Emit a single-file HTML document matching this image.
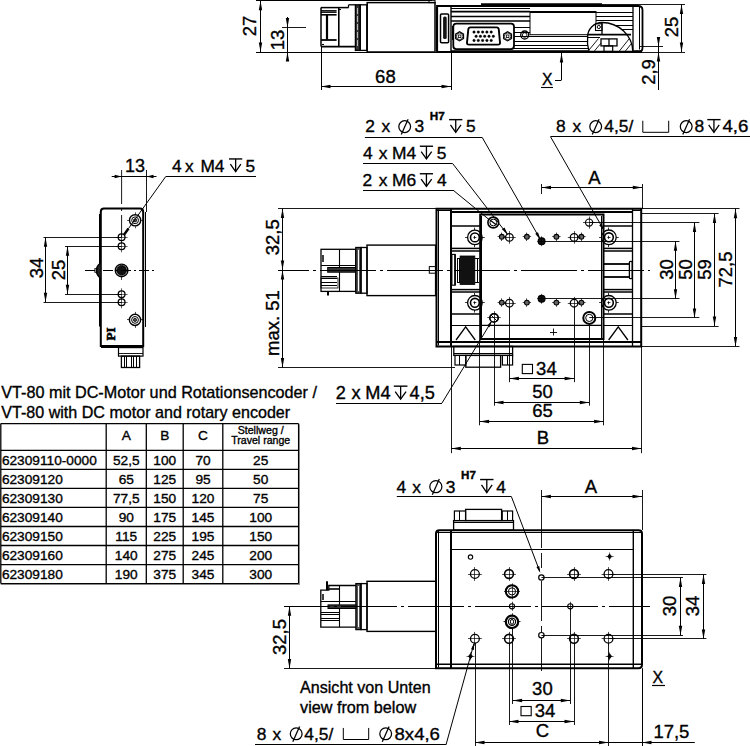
<!DOCTYPE html>
<html><head><meta charset="utf-8"><style>
html,body{margin:0;padding:0;background:#fff;}
svg{display:block;}
text{font-family:"Liberation Sans",sans-serif;fill:#000;stroke:#000;stroke-width:0.35px;}
</style></head><body>
<svg width="750" height="746" viewBox="0 0 750 746" stroke="#000" fill="none" stroke-linecap="butt">
<rect x="0" y="0" width="750" height="746" fill="#fff" stroke="none"/>
<line x1="256" y1="0.5" x2="432" y2="0.5" stroke-width="1" />
<line x1="256" y1="52.5" x2="437" y2="52.5" stroke-width="1" />
<line x1="260.5" y1="0.8" x2="260.5" y2="52" stroke-width="1" />
<polygon points="260.5,0.8 262.2,10.3 258.8,10.3" fill="#000" stroke="none"/>
<polygon points="260.5,52 258.8,42.5 262.2,42.5" fill="#000" stroke="none"/>
<text x="249" y="32.62" font-size="18.5" text-anchor="middle" transform="rotate(-90 249 26)">27</text>
<line x1="287.5" y1="17" x2="287.5" y2="61" stroke-width="1" />
<polygon points="287.5,27.6 285.8,18.1 289.2,18.1" fill="#000" stroke="none"/>
<polygon points="287.5,52 289.2,61.5 285.8,61.5" fill="#000" stroke="none"/>
<line x1="282" y1="27.5" x2="306" y2="27.5" stroke-width="0.9" />
<text x="277" y="46.62" font-size="18.5" text-anchor="middle" transform="rotate(-90 277 40)">13</text>
<line x1="321" y1="7.6" x2="348.6" y2="7.6" stroke-width="1.5" />
<line x1="348.5" y1="7.6" x2="348.5" y2="4.8" stroke-width="1.2" />
<line x1="348.6" y1="4.8" x2="355.4" y2="4.8" stroke-width="1.3" />
<line x1="321" y1="7.6" x2="321" y2="46.6" stroke-width="1.5" />
<line x1="338.8" y1="7.6" x2="338.8" y2="46.6" stroke-width="1.6" />
<line x1="321" y1="10.5" x2="336.6" y2="10.5" stroke-width="0.9" />
<line x1="321" y1="12.1" x2="336.6" y2="12.1" stroke-width="1.6" />
<line x1="321" y1="14.8" x2="336.6" y2="14.8" stroke-width="1.6" />
<line x1="327" y1="14.8" x2="327" y2="39.6" stroke-width="2.2" />
<line x1="321" y1="40" x2="336.6" y2="40" stroke-width="1.8" />
<line x1="321" y1="46.6" x2="355.4" y2="46.6" stroke-width="1.6" />
<line x1="322" y1="44.5" x2="324" y2="44.5" stroke-width="1.0" />
<line x1="339" y1="9.5" x2="341" y2="9.5" stroke-width="1.2" />
<rect x="355.4" y="4.8" width="4.8" height="45.6" rx="0" stroke-width="1.3" fill="#333"/>
<line x1="357.5" y1="8" x2="357.5" y2="47" stroke-width="1.0" stroke="#bbb" stroke-dasharray="6,2"/>
<rect x="360.2" y="4.8" width="6.6" height="45.6" rx="0" stroke-width="1.3" fill="none"/>
<rect x="367.2" y="2.6" width="67.8" height="49.4" rx="0" stroke-width="1.5" fill="none"/>
<rect x="429" y="0.3" width="6" height="2.3" rx="0" stroke-width="1.0" fill="none"/>
<path d="M437,52 L437,6 L638,6 Q642.5,6 642.5,10 L642.5,48 Q642.5,52 638,52 Z" stroke-width="1.8" fill="none" />
<line x1="437" y1="52" x2="642" y2="52" stroke-width="2.2" />
<line x1="451" y1="6" x2="451" y2="52" stroke-width="1.4" />
<rect x="440.5" y="14" width="8.1" height="28.8" rx="1" stroke-width="1.5" fill="none"/>
<rect x="443.1" y="16.4" width="3.6" height="22.6" rx="1.6" stroke-width="0" fill="#111"/>
<line x1="437" y1="7" x2="437" y2="51" stroke-width="2.2" />
<line x1="481" y1="4.5" x2="602" y2="4.5" stroke-width="2.4" />
<line x1="451" y1="8.5" x2="530" y2="8.5" stroke-width="1.0" />
<line x1="451" y1="11.7" x2="530" y2="11.7" stroke-width="1.7" />
<line x1="451" y1="16.5" x2="530" y2="16.5" stroke-width="1.4" />
<line x1="451" y1="21" x2="530" y2="21" stroke-width="1.7" />
<line x1="514" y1="27.5" x2="530" y2="27.5" stroke-width="1.0" />
<line x1="514" y1="32.5" x2="530" y2="32.5" stroke-width="1.0" />
<rect x="530" y="11.5" width="66" height="23.2" rx="0" stroke-width="1.0" fill="none"/>
<line x1="530" y1="12" x2="596" y2="12" stroke-width="2.0" />
<line x1="596" y1="12.5" x2="633" y2="12.5" stroke-width="1.0" />
<line x1="596" y1="16.5" x2="633" y2="16.5" stroke-width="1.0" />
<line x1="596" y1="20.5" x2="633" y2="20.5" stroke-width="1.0" />
<line x1="596" y1="25.5" x2="633" y2="25.5" stroke-width="1.0" />
<line x1="596" y1="29.5" x2="633" y2="29.5" stroke-width="1.0" />
<line x1="514" y1="36.5" x2="588" y2="36.5" stroke-width="1.0" />
<line x1="514" y1="41.5" x2="588" y2="41.5" stroke-width="1.0" />
<line x1="514" y1="45.5" x2="588" y2="45.5" stroke-width="1.0" />
<line x1="514" y1="48.5" x2="588" y2="48.5" stroke-width="1.0" />
<line x1="451" y1="50.5" x2="642" y2="50.5" stroke-width="0.8" />
<rect x="453.3" y="23.6" width="60.7" height="25.5" rx="3" stroke-width="1.8" fill="none"/>
<path d="M470.5,27.4 L496.5,27.4 Q498.6,27.4 498.8,29.5 L500,42.5 Q500.2,44.6 498,44.6 L469,44.6 Q466.8,44.6 467,42.5 L468.3,29.5 Q468.5,27.4 470.5,27.4 Z" stroke-width="1.9" fill="none" />
<circle cx="474" cy="32.1" r="1.25" stroke-width="0.4" fill="#000"/>
<circle cx="476.1" cy="36.3" r="1.25" stroke-width="0.4" fill="#000"/>
<circle cx="474" cy="40.4" r="1.25" stroke-width="0.4" fill="#000"/>
<circle cx="478.3" cy="32.1" r="1.25" stroke-width="0.4" fill="#000"/>
<circle cx="480.4" cy="36.3" r="1.25" stroke-width="0.4" fill="#000"/>
<circle cx="478.3" cy="40.4" r="1.25" stroke-width="0.4" fill="#000"/>
<circle cx="482.6" cy="32.1" r="1.25" stroke-width="0.4" fill="#000"/>
<circle cx="484.7" cy="36.3" r="1.25" stroke-width="0.4" fill="#000"/>
<circle cx="482.6" cy="40.4" r="1.25" stroke-width="0.4" fill="#000"/>
<circle cx="486.9" cy="32.1" r="1.25" stroke-width="0.4" fill="#000"/>
<circle cx="489" cy="36.3" r="1.25" stroke-width="0.4" fill="#000"/>
<circle cx="486.9" cy="40.4" r="1.25" stroke-width="0.4" fill="#000"/>
<circle cx="491.2" cy="32.1" r="1.25" stroke-width="0.4" fill="#000"/>
<circle cx="493.3" cy="36.3" r="1.25" stroke-width="0.4" fill="#000"/>
<circle cx="491.2" cy="40.4" r="1.25" stroke-width="0.4" fill="#000"/>
<polygon points="463.58,38.6 459.6,40.9 455.62,38.6 455.62,34 459.6,31.7 463.58,34" stroke-width="1.1" fill="none"/>
<circle cx="459.6" cy="36.3" r="3.3" stroke-width="0.8" fill="none"/>
<rect x="458.3" y="35" width="2.6" height="2.6" rx="0" stroke-width="0.8" fill="none"/>
<polygon points="511.58,38.6 507.6,40.9 503.62,38.6 503.62,34 507.6,31.7 511.58,34" stroke-width="1.1" fill="none"/>
<circle cx="507.6" cy="36.3" r="3.3" stroke-width="0.8" fill="none"/>
<rect x="506.3" y="35" width="2.6" height="2.6" rx="0" stroke-width="0.8" fill="none"/>
<circle cx="524.7" cy="35" r="4" stroke-width="1.3" fill="none"/>
<circle cx="524.7" cy="35" r="2.3" stroke-width="0.9" fill="none"/>
<line x1="452.8" y1="26" x2="452.8" y2="40" stroke-width="1.6" />
<line x1="633" y1="6.4" x2="633" y2="50" stroke-width="1.3" />
<line x1="639.5" y1="7" x2="639.5" y2="49.5" stroke-width="1.0" />
<path d="M589,51.5 Q586.8,44 587.6,37 A14.5,14.5 0 0 1 602,22.5 A31,29.5 0 0 1 632.8,51.5 Z" stroke-width="1.3" fill="#fff" />
<line x1="602" y1="22.5" x2="602" y2="35" stroke-width="1.3" />
<line x1="587.6" y1="34.6" x2="631" y2="34.6" stroke-width="1.6" />
<line x1="587.6" y1="37.5" x2="600" y2="37.5" stroke-width="1.0" />
<rect x="595.5" y="23.8" width="6.5" height="6.7" rx="0" stroke-width="1.1" fill="none"/>
<circle cx="598.8" cy="27" r="1.6" stroke-width="1.0" fill="none"/>
<rect x="601" y="38.9" width="16" height="7" rx="0" stroke-width="1.3" fill="none"/>
<rect x="604" y="45.9" width="8.7" height="5.6" rx="0" stroke-width="1.2" fill="none"/>
<line x1="609" y1="38.9" x2="609" y2="45.9" stroke-width="1.3" />
<line x1="589" y1="50" x2="598.5" y2="38.5" stroke-width="0.9" />
<line x1="594" y1="51.5" x2="601" y2="43" stroke-width="0.9" />
<line x1="619" y1="51.5" x2="629" y2="39" stroke-width="0.9" />
<line x1="625" y1="51.5" x2="631.5" y2="43.5" stroke-width="0.9" />
<line x1="602" y1="4.5" x2="685" y2="4.5" stroke-width="0.9" />
<line x1="642" y1="52.5" x2="685" y2="52.5" stroke-width="0.9" />
<line x1="640" y1="46.5" x2="663" y2="46.5" stroke-width="0.9" />
<line x1="681.5" y1="4.5" x2="681.5" y2="52" stroke-width="1" />
<polygon points="681.5,4.5 683.2,14 679.8,14" fill="#000" stroke="none"/>
<polygon points="681.5,52 679.8,42.5 683.2,42.5" fill="#000" stroke="none"/>
<text x="671" y="33.62" font-size="18.5" text-anchor="middle" transform="rotate(-90 671 27)">25</text>
<line x1="658.5" y1="37" x2="658.5" y2="90" stroke-width="1" />
<polygon points="658.5,46.6 656.8,37.1 660.2,37.1" fill="#000" stroke="none"/>
<polygon points="658.5,52 660.2,61.5 656.8,61.5" fill="#000" stroke="none"/>
<text x="648" y="78.62" font-size="18.5" text-anchor="middle" transform="rotate(-90 648 72)">2,9</text>
<line x1="561.5" y1="53" x2="561.5" y2="80" stroke-width="1" />
<polygon points="561.5,53 563.2,62.5 559.8,62.5" fill="#000" stroke="none"/>
<line x1="555" y1="80.5" x2="561.4" y2="80.5" stroke-width="1" />
<text x="547.2" y="84.8" font-size="15.8" text-anchor="middle" >X</text>
<line x1="541" y1="87.5" x2="553" y2="87.5" stroke-width="1.1" />
<line x1="321.5" y1="47" x2="321.5" y2="90" stroke-width="1" />
<line x1="451.5" y1="52" x2="451.5" y2="90" stroke-width="1" />
<line x1="321" y1="86.5" x2="451" y2="86.5" stroke-width="1" />
<polygon points="321,86.5 330.5,84.8 330.5,88.2" fill="#000" stroke="none"/>
<polygon points="451,86.5 441.5,88.2 441.5,84.8" fill="#000" stroke="none"/>
<text x="385.4" y="82.6" font-size="18.5" text-anchor="middle" >68</text>
<path d="M100.8,347 L100.8,212 Q100.8,208.6 104,208.6 L140,208.6 Q143.2,208.6 143.2,212 L143.2,347" stroke-width="2.0" fill="none" />
<line x1="100.8" y1="346" x2="143.2" y2="346" stroke-width="2.0" />
<line x1="99.5" y1="214" x2="99.5" y2="326.5" stroke-width="1.0" />
<line x1="145.5" y1="212" x2="145.5" y2="327" stroke-width="1.0" />
<line x1="101" y1="347.5" x2="143" y2="347.5" stroke-width="1.0" />
<rect x="118.5" y="347.6" width="24.5" height="8.5" rx="0" stroke-width="1.2" fill="none"/>
<line x1="118.5" y1="353.5" x2="143" y2="353.5" stroke-width="0.9" />
<rect x="121.4" y="356.1" width="18.2" height="11.4" rx="0" stroke-width="1.3" fill="none"/>
<line x1="124.5" y1="356.1" x2="124.5" y2="367.5" stroke-width="1.0" />
<line x1="126.5" y1="356.1" x2="126.5" y2="367.5" stroke-width="1.0" />
<line x1="131.5" y1="356.1" x2="131.5" y2="367.5" stroke-width="1.0" />
<line x1="133.5" y1="356.1" x2="133.5" y2="367.5" stroke-width="1.0" />
<line x1="136.5" y1="356.1" x2="136.5" y2="367.5" stroke-width="1.0" />
<circle cx="135.1" cy="220.3" r="5.6" stroke-width="1.4" fill="none"/>
<circle cx="135.1" cy="220.3" r="3.4" stroke-width="1.0" fill="none"/>
<circle cx="135.1" cy="220.3" r="1.6" stroke-width="0.8" fill="#555"/>
<line x1="127.1" y1="220.5" x2="129.1" y2="220.5" stroke-width="0.7" />
<line x1="141.1" y1="220.5" x2="143.1" y2="220.5" stroke-width="0.7" />
<line x1="135.5" y1="212.3" x2="135.5" y2="214.3" stroke-width="0.7" />
<line x1="135.5" y1="226.3" x2="135.5" y2="228.3" stroke-width="0.7" />
<circle cx="135" cy="319.9" r="5.6" stroke-width="1.4" fill="none"/>
<circle cx="135" cy="319.9" r="3.4" stroke-width="1.0" fill="none"/>
<circle cx="135" cy="319.9" r="1.6" stroke-width="0.8" fill="#555"/>
<line x1="127" y1="319.5" x2="129" y2="319.5" stroke-width="0.7" />
<line x1="141" y1="319.5" x2="143" y2="319.5" stroke-width="0.7" />
<line x1="135.5" y1="311.9" x2="135.5" y2="313.9" stroke-width="0.7" />
<line x1="135.5" y1="325.9" x2="135.5" y2="327.9" stroke-width="0.7" />
<circle cx="121.6" cy="237.2" r="3.4" stroke-width="1.3" fill="none"/>
<line x1="115.6" y1="237.5" x2="127.6" y2="237.5" stroke-width="0.6" />
<line x1="121.5" y1="231.2" x2="121.5" y2="243.2" stroke-width="0.6" />
<circle cx="121.6" cy="246.3" r="3.4" stroke-width="1.3" fill="none"/>
<line x1="115.6" y1="246.5" x2="127.6" y2="246.5" stroke-width="0.6" />
<line x1="121.5" y1="240.3" x2="121.5" y2="252.3" stroke-width="0.6" />
<circle cx="121.6" cy="294.3" r="3.4" stroke-width="1.3" fill="none"/>
<line x1="115.6" y1="294.5" x2="127.6" y2="294.5" stroke-width="0.6" />
<line x1="121.5" y1="288.3" x2="121.5" y2="300.3" stroke-width="0.6" />
<circle cx="121.6" cy="302.3" r="3.4" stroke-width="1.3" fill="none"/>
<line x1="115.6" y1="302.5" x2="127.6" y2="302.5" stroke-width="0.6" />
<line x1="121.5" y1="296.3" x2="121.5" y2="308.3" stroke-width="0.6" />
<circle cx="121.6" cy="270.4" r="6.3" stroke-width="1.4" fill="none"/>
<circle cx="121.6" cy="270.4" r="4.8" stroke-width="1.0" fill="#111"/>
<line x1="121.5" y1="277" x2="121.5" y2="280" stroke-width="0.7" />
<line x1="85" y1="270.5" x2="156" y2="270.5" stroke-width="1" stroke-dasharray="10,3,2,3"/>
<path d="M100.5,263 Q96.5,266 96.3,270.4 Q96.5,275 100.5,278" stroke-width="1.4" fill="#222" />
<rect x="94.8" y="268.6" width="2.2" height="3.7" rx="0" stroke-width="0.8" fill="none"/>
<text x="110.2" y="334" font-size="13" font-weight="bold" font-family="Liberation Serif" text-anchor="middle" transform="rotate(-90 110.2 334)" dominant-baseline="central" style="font-family:Liberation Serif;stroke-width:0.6px">PI</text>
<line x1="111.7" y1="176.5" x2="156.5" y2="176.5" stroke-width="1" />
<polygon points="121.6,176.5 114.6,178.2 114.6,174.8" fill="#000" stroke="none"/>
<polygon points="146.5,176.5 153.5,174.8 153.5,178.2" fill="#000" stroke="none"/>
<line x1="121.6" y1="170" x2="121.6" y2="237" stroke-width="0.9" stroke-dasharray="34,4,3,4"/>
<line x1="146.5" y1="170" x2="146.5" y2="212" stroke-width="0.9" />
<text x="135" y="171.7" font-size="18" text-anchor="middle" >13</text>
<text x="172" y="171.6" font-size="17.3" text-anchor="start" >4</text>
<text x="185.11" y="171.6" font-size="17.3" text-anchor="start" >x</text>
<text x="200.38" y="171.6" font-size="17.3" text-anchor="start" >M4</text>
<line x1="229" y1="158.94" x2="242.26" y2="158.94" stroke-width="1.4" />
<line x1="235.63" y1="158.94" x2="235.63" y2="171.6" stroke-width="1.3" />
<polyline points="230.36,164.21 235.63,171.6 240.9,164.21" stroke-width="1.3" fill="none"/>
<text x="245.41" y="171.6" font-size="17.3" text-anchor="start" >5</text>
<line x1="165.7" y1="176.5" x2="256" y2="176.5" stroke-width="1" />
<line x1="165.7" y1="176.6" x2="128.5" y2="228.5" stroke-width="1" />
<line x1="128.5" y1="228.5" x2="124.2" y2="234.5" stroke-width="2.4" />
<line x1="43.5" y1="237.5" x2="121.6" y2="237.5" stroke-width="0.9" />
<line x1="65" y1="246.5" x2="121.6" y2="246.5" stroke-width="0.9" />
<line x1="65" y1="294.5" x2="121.6" y2="294.5" stroke-width="0.9" />
<line x1="43.5" y1="302.5" x2="121.6" y2="302.5" stroke-width="0.9" />
<line x1="45.5" y1="237.2" x2="45.5" y2="302.3" stroke-width="1" />
<polygon points="45.5,237.2 47.2,246.7 43.8,246.7" fill="#000" stroke="none"/>
<polygon points="45.5,302.3 43.8,292.8 47.2,292.8" fill="#000" stroke="none"/>
<line x1="67.5" y1="246.3" x2="67.5" y2="294.3" stroke-width="1" />
<polygon points="67.5,246.3 69.2,255.8 65.8,255.8" fill="#000" stroke="none"/>
<polygon points="67.5,294.3 65.8,284.8 69.2,284.8" fill="#000" stroke="none"/>
<text x="36.8" y="274.62" font-size="18.5" text-anchor="middle" transform="rotate(-90 36.8 268)">34</text>
<text x="58.4" y="276.62" font-size="18.5" text-anchor="middle" transform="rotate(-90 58.4 270)">25</text>
<text x="365.22" y="132.3" font-size="17.4" text-anchor="start" >2</text>
<text x="381.5" y="132.3" font-size="17.4" text-anchor="start" >x</text>
<circle cx="404.7" cy="126.61" r="5.9" stroke-width="1.25" fill="none"/>
<line x1="401.3" y1="134.59" x2="408.1" y2="119.21" stroke-width="1.25" />
<text x="414.44" y="132.3" font-size="17.4" text-anchor="start" >3</text>
<text x="429.84" y="119.5" font-size="10.5" text-anchor="start" font-weight="bold" textLength="15" lengthAdjust="spacingAndGlyphs">H7</text>
<line x1="449.1" y1="119.64" x2="462.36" y2="119.64" stroke-width="1.4" />
<line x1="455.73" y1="119.64" x2="455.73" y2="132.3" stroke-width="1.3" />
<polyline points="450.46,124.91 455.73,132.3 461,124.91" stroke-width="1.3" fill="none"/>
<text x="466" y="132.3" font-size="17.4" text-anchor="start" >5</text>
<line x1="364.9" y1="137.5" x2="482.2" y2="137.5" stroke-width="1" />
<line x1="482.2" y1="137.4" x2="539.8" y2="238.5" stroke-width="1" />
<polygon points="540.6,240 535.23,233.86 538,232.27" fill="#000" stroke="none"/>
<text x="362.9" y="158.9" font-size="17.4" text-anchor="start" >4</text>
<text x="378.8" y="158.9" font-size="17.4" text-anchor="start" >x</text>
<text x="391.97" y="158.9" font-size="17.4" text-anchor="start" >M4</text>
<line x1="419.8" y1="146.24" x2="433.06" y2="146.24" stroke-width="1.4" />
<line x1="426.43" y1="146.24" x2="426.43" y2="158.9" stroke-width="1.3" />
<polyline points="421.16,151.51 426.43,158.9 431.7,151.51" stroke-width="1.3" fill="none"/>
<text x="436.7" y="158.9" font-size="17.4" text-anchor="start" >5</text>
<line x1="363" y1="163.5" x2="452.6" y2="163.5" stroke-width="1" />
<line x1="452.6" y1="163.5" x2="507.5" y2="234.5" stroke-width="1" />
<polygon points="508,234.8 501.92,229.36 504.48,227.44" fill="#000" stroke="none"/>
<text x="362.42" y="186.4" font-size="17.4" text-anchor="start" >2</text>
<text x="378.8" y="186.4" font-size="17.4" text-anchor="start" >x</text>
<text x="391.97" y="186.4" font-size="17.4" text-anchor="start" >M6</text>
<line x1="419.8" y1="173.74" x2="433.06" y2="173.74" stroke-width="1.4" />
<line x1="426.43" y1="173.74" x2="426.43" y2="186.4" stroke-width="1.3" />
<polyline points="421.16,179.01 426.43,186.4 431.7,179.01" stroke-width="1.3" fill="none"/>
<text x="437" y="186.4" font-size="17.4" text-anchor="start" >4</text>
<line x1="363" y1="190.5" x2="454" y2="190.5" stroke-width="1" />
<line x1="454" y1="190.9" x2="489" y2="219.5" stroke-width="1" />
<text x="555.94" y="132.3" font-size="17.4" text-anchor="start" >8</text>
<text x="572.5" y="132.3" font-size="17.4" text-anchor="start" >x</text>
<circle cx="595.7" cy="126.61" r="5.9" stroke-width="1.25" fill="none"/>
<line x1="592.3" y1="134.59" x2="599.1" y2="119.21" stroke-width="1.25" />
<text x="604.3" y="132.3" font-size="17.4" text-anchor="start" >4,5/</text>
<polyline points="642.8,120.74 642.8,132.3 668.7,132.3 668.7,120.74" stroke-width="1.0" fill="none"/>
<circle cx="686.2" cy="126.61" r="5.9" stroke-width="1.25" fill="none"/>
<line x1="682.8" y1="134.59" x2="689.6" y2="119.21" stroke-width="1.25" />
<text x="694.54" y="132.3" font-size="17.4" text-anchor="start" >8</text>
<line x1="707.3" y1="119.64" x2="720.56" y2="119.64" stroke-width="1.4" />
<line x1="713.93" y1="119.64" x2="713.93" y2="132.3" stroke-width="1.3" />
<polyline points="708.66,124.91 713.93,132.3 719.2,124.91" stroke-width="1.3" fill="none"/>
<text x="722.41" y="132.3" font-size="17" text-anchor="start" textLength="25.9" lengthAdjust="spacingAndGlyphs">4,6</text>
<line x1="550.5" y1="136.5" x2="750" y2="136.5" stroke-width="1" />
<line x1="550.5" y1="136.7" x2="603.5" y2="229.5" stroke-width="1" />
<polygon points="604,230.5 599.21,225.18 601.81,223.68" fill="#000" stroke="none"/>
<line x1="541.5" y1="184" x2="541.5" y2="194" stroke-width="0.9" />
<line x1="642.5" y1="184" x2="642.5" y2="209" stroke-width="0.9" />
<line x1="541.5" y1="187.5" x2="642.3" y2="187.5" stroke-width="1" />
<polygon points="541.5,187.5 551,185.8 551,189.2" fill="#000" stroke="none"/>
<polygon points="642.3,187.5 632.8,189.2 632.8,185.8" fill="#000" stroke="none"/>
<text x="594.3" y="184" font-size="18.5" text-anchor="middle" >A</text>
<rect x="321" y="249.3" width="34.8" height="42.1" rx="0" stroke-width="1.3" fill="none"/>
<line x1="339.5" y1="249.3" x2="339.5" y2="291.4" stroke-width="1.1" />
<line x1="321" y1="265.5" x2="355.8" y2="265.5" stroke-width="1.1" />
<rect x="327.7" y="267.5" width="28.1" height="4.7" rx="0" stroke-width="1.0" fill="#333"/>
<line x1="321" y1="276.5" x2="337" y2="276.5" stroke-width="1.0" />
<line x1="321" y1="278.5" x2="337" y2="278.5" stroke-width="1.0" />
<line x1="321" y1="282.5" x2="337" y2="282.5" stroke-width="1.0" />
<line x1="321" y1="285.5" x2="337" y2="285.5" stroke-width="1.0" />
<rect x="321" y="278" width="17" height="10" rx="0" stroke-width="0.8" fill="none"/>
<line x1="328" y1="291.4" x2="328" y2="295.6" stroke-width="2.0" />
<line x1="323" y1="255" x2="323" y2="262" stroke-width="1.5" />
<rect x="355.8" y="247.5" width="5.2" height="45.7" rx="0" stroke-width="1.3" fill="#555"/>
<line x1="358.5" y1="250" x2="358.5" y2="291" stroke-width="1.0" stroke="#fff"/>
<rect x="361" y="247.5" width="6" height="45.7" rx="0" stroke-width="1.3" fill="none"/>
<rect x="367" y="245.1" width="68.6" height="50.5" rx="0" stroke-width="1.4" fill="none"/>
<rect x="429.3" y="266.6" width="6.3" height="6.6" rx="0" stroke-width="1.0" fill="none"/>
<line x1="278" y1="208.5" x2="436" y2="208.5" stroke-width="0.9" />
<line x1="278" y1="367.5" x2="455" y2="367.5" stroke-width="0.9" />
<line x1="282.5" y1="208.6" x2="282.5" y2="367.5" stroke-width="1" />
<polygon points="282.5,208.6 284.2,218.1 280.8,218.1" fill="#000" stroke="none"/>
<polygon points="282.5,270 280.8,260.5 284.2,260.5" fill="#000" stroke="none"/>
<polygon points="282.5,270 284.2,279.5 280.8,279.5" fill="#000" stroke="none"/>
<polygon points="282.5,367.5 280.8,358 284.2,358" fill="#000" stroke="none"/>
<text x="272.7" y="243.92" font-size="18.5" text-anchor="middle" transform="rotate(-90 272.7 237.3)">32,5</text>
<text x="272.7" y="329.62" font-size="18.5" text-anchor="middle" transform="rotate(-90 272.7 323)">max. 51</text>
<line x1="278" y1="270.5" x2="650" y2="270.5" stroke-width="1" stroke-dasharray="56,4,3,4" stroke-dashoffset="25"/>
<path d="M436.5,346.4 L436.5,208.8 L641.2,208.8 L641.2,346.4 Z" stroke-width="2.0" fill="none" />
<line x1="438.5" y1="209.5" x2="438.5" y2="345.5" stroke-width="1.0" />
<line x1="451" y1="208.8" x2="451" y2="346.4" stroke-width="2.0" />
<line x1="632.5" y1="208.8" x2="632.5" y2="346.4" stroke-width="1.3" />
<line x1="436" y1="210.5" x2="451" y2="210.5" stroke-width="1.0" />
<line x1="451" y1="212" x2="632.5" y2="212" stroke-width="2.0" />
<line x1="632.5" y1="210.5" x2="641" y2="210.5" stroke-width="1.0" />
<line x1="436" y1="342" x2="642" y2="342" stroke-width="1.8" />
<path d="M480.2,340 L480.2,214.5 L603.5,214.5 L603.5,340" stroke-width="2.0" fill="none" />
<line x1="481.5" y1="216" x2="481.5" y2="338" stroke-width="1.0" />
<line x1="601.5" y1="216" x2="601.5" y2="338" stroke-width="1.0" />
<line x1="480" y1="339" x2="604" y2="339" stroke-width="2.2" />
<line x1="482" y1="325.4" x2="602" y2="325.4" stroke-width="1.3" />
<line x1="451.3" y1="226" x2="480" y2="226" stroke-width="1.5" />
<line x1="451.3" y1="248.4" x2="480" y2="248.4" stroke-width="1.5" />
<line x1="451.3" y1="251" x2="480" y2="251" stroke-width="1.5" />
<line x1="451.3" y1="289.6" x2="480" y2="289.6" stroke-width="1.5" />
<line x1="451.3" y1="292" x2="480" y2="292" stroke-width="1.5" />
<line x1="451.3" y1="314" x2="480" y2="314" stroke-width="1.5" />
<line x1="451.3" y1="325.5" x2="480" y2="325.5" stroke-width="1.0" />
<polyline points="456.05,340 465.65,326.8 475.25,340" stroke-width="1.3" fill="none"/>
<line x1="604" y1="226" x2="632.5" y2="226" stroke-width="1.5" />
<line x1="604" y1="248.4" x2="632.5" y2="248.4" stroke-width="1.5" />
<line x1="604" y1="251" x2="632.5" y2="251" stroke-width="1.5" />
<line x1="604" y1="289.6" x2="632.5" y2="289.6" stroke-width="1.5" />
<line x1="604" y1="292" x2="632.5" y2="292" stroke-width="1.5" />
<line x1="604" y1="314" x2="632.5" y2="314" stroke-width="1.5" />
<line x1="604" y1="325.5" x2="632.5" y2="325.5" stroke-width="1.0" />
<polyline points="608.65,340 618.25,326.8 627.85,340" stroke-width="1.3" fill="none"/>
<rect x="451.9" y="254.4" width="3.3" height="30.8" rx="0" stroke-width="1.1" fill="none"/>
<line x1="455" y1="254.4" x2="455" y2="285.2" stroke-width="1.6" />
<line x1="457.5" y1="258" x2="457.5" y2="282.2" stroke-width="1.0" />
<line x1="459.5" y1="258" x2="459.5" y2="282.2" stroke-width="1.0" />
<line x1="457" y1="258.5" x2="460" y2="258.5" stroke-width="1.0" />
<line x1="457" y1="282.5" x2="460" y2="282.5" stroke-width="1.0" />
<rect x="460.1" y="256" width="14.7" height="28.5" rx="0" stroke-width="0.8" fill="#111"/>
<line x1="477.5" y1="258" x2="477.5" y2="282.2" stroke-width="1.0" />
<line x1="474.8" y1="258.5" x2="479" y2="258.5" stroke-width="1.0" />
<line x1="474.8" y1="282.5" x2="479" y2="282.5" stroke-width="1.0" />
<line x1="604" y1="264" x2="629.6" y2="264" stroke-width="1.8" />
<line x1="604" y1="277" x2="629.6" y2="277" stroke-width="1.8" />
<rect x="629.4" y="261.4" width="2.8" height="17.3" rx="1" stroke-width="1.3" fill="none"/>
<circle cx="474.9" cy="237.4" r="7.3" stroke-width="1.3" fill="none"/>
<circle cx="474.9" cy="237.4" r="4.4" stroke-width="1.6" fill="none"/>
<line x1="473.4" y1="237.5" x2="476.4" y2="237.5" stroke-width="0.8" />
<line x1="474.5" y1="235.9" x2="474.5" y2="238.9" stroke-width="0.8" />
<line x1="482.2" y1="237.5" x2="484.7" y2="237.5" stroke-width="0.8" />
<line x1="467.6" y1="237.5" x2="465.1" y2="237.5" stroke-width="0.8" />
<line x1="474.5" y1="244.7" x2="474.5" y2="247.2" stroke-width="0.8" />
<line x1="474.5" y1="230.1" x2="474.5" y2="227.6" stroke-width="0.8" />
<circle cx="474.9" cy="302.8" r="7.3" stroke-width="1.3" fill="none"/>
<circle cx="474.9" cy="302.8" r="4.4" stroke-width="1.6" fill="none"/>
<line x1="473.4" y1="302.5" x2="476.4" y2="302.5" stroke-width="0.8" />
<line x1="474.5" y1="301.3" x2="474.5" y2="304.3" stroke-width="0.8" />
<line x1="482.2" y1="302.5" x2="484.7" y2="302.5" stroke-width="0.8" />
<line x1="467.6" y1="302.5" x2="465.1" y2="302.5" stroke-width="0.8" />
<line x1="474.5" y1="310.1" x2="474.5" y2="312.6" stroke-width="0.8" />
<line x1="474.5" y1="295.5" x2="474.5" y2="293" stroke-width="0.8" />
<circle cx="608.9" cy="237.3" r="7.3" stroke-width="1.3" fill="none"/>
<circle cx="608.9" cy="237.3" r="4.4" stroke-width="1.6" fill="none"/>
<line x1="607.4" y1="237.5" x2="610.4" y2="237.5" stroke-width="0.8" />
<line x1="608.5" y1="235.8" x2="608.5" y2="238.8" stroke-width="0.8" />
<line x1="616.2" y1="237.5" x2="618.7" y2="237.5" stroke-width="0.8" />
<line x1="601.6" y1="237.5" x2="599.1" y2="237.5" stroke-width="0.8" />
<line x1="608.5" y1="244.6" x2="608.5" y2="247.1" stroke-width="0.8" />
<line x1="608.5" y1="230" x2="608.5" y2="227.5" stroke-width="0.8" />
<circle cx="608.9" cy="302.8" r="7.3" stroke-width="1.3" fill="none"/>
<circle cx="608.9" cy="302.8" r="4.4" stroke-width="1.6" fill="none"/>
<line x1="607.4" y1="302.5" x2="610.4" y2="302.5" stroke-width="0.8" />
<line x1="608.5" y1="301.3" x2="608.5" y2="304.3" stroke-width="0.8" />
<line x1="616.2" y1="302.5" x2="618.7" y2="302.5" stroke-width="0.8" />
<line x1="601.6" y1="302.5" x2="599.1" y2="302.5" stroke-width="0.8" />
<line x1="608.5" y1="310.1" x2="608.5" y2="312.6" stroke-width="0.8" />
<line x1="608.5" y1="295.5" x2="608.5" y2="293" stroke-width="0.8" />
<circle cx="501.8" cy="236.8" r="2.4" stroke-width="1.1" fill="#666"/>
<line x1="497.6" y1="236.5" x2="499.4" y2="236.5" stroke-width="0.7" />
<line x1="504.2" y1="236.5" x2="506" y2="236.5" stroke-width="0.7" />
<line x1="501.5" y1="232.6" x2="501.5" y2="234.4" stroke-width="0.7" />
<line x1="501.5" y1="239.2" x2="501.5" y2="241" stroke-width="0.7" />
<circle cx="526.9" cy="236.8" r="2.4" stroke-width="1.1" fill="#666"/>
<line x1="522.7" y1="236.5" x2="524.5" y2="236.5" stroke-width="0.7" />
<line x1="529.3" y1="236.5" x2="531.1" y2="236.5" stroke-width="0.7" />
<line x1="526.5" y1="232.6" x2="526.5" y2="234.4" stroke-width="0.7" />
<line x1="526.5" y1="239.2" x2="526.5" y2="241" stroke-width="0.7" />
<circle cx="556.4" cy="236.8" r="2.4" stroke-width="1.1" fill="#666"/>
<line x1="552.2" y1="236.5" x2="554" y2="236.5" stroke-width="0.7" />
<line x1="558.8" y1="236.5" x2="560.6" y2="236.5" stroke-width="0.7" />
<line x1="556.5" y1="232.6" x2="556.5" y2="234.4" stroke-width="0.7" />
<line x1="556.5" y1="239.2" x2="556.5" y2="241" stroke-width="0.7" />
<circle cx="581.4" cy="236.8" r="2.4" stroke-width="1.1" fill="#666"/>
<line x1="577.2" y1="236.5" x2="579" y2="236.5" stroke-width="0.7" />
<line x1="583.8" y1="236.5" x2="585.6" y2="236.5" stroke-width="0.7" />
<line x1="581.5" y1="232.6" x2="581.5" y2="234.4" stroke-width="0.7" />
<line x1="581.5" y1="239.2" x2="581.5" y2="241" stroke-width="0.7" />
<circle cx="509.4" cy="237.4" r="3.8" stroke-width="1.3" fill="none"/>
<line x1="503.1" y1="237.5" x2="515.7" y2="237.5" stroke-width="0.7" />
<line x1="509.5" y1="231.1" x2="509.5" y2="243.7" stroke-width="0.7" />
<circle cx="574.1" cy="237.4" r="3.8" stroke-width="1.3" fill="none"/>
<line x1="567.8" y1="237.5" x2="580.4" y2="237.5" stroke-width="0.7" />
<line x1="574.5" y1="231.1" x2="574.5" y2="243.7" stroke-width="0.7" />
<circle cx="541.6" cy="241.2" r="3.4" stroke-width="1.2" fill="#111"/>
<line x1="537" y1="241.5" x2="546" y2="241.5" stroke-width="0.6" />
<line x1="541.5" y1="236.2" x2="541.5" y2="246.2" stroke-width="0.6" />
<circle cx="501.8" cy="302.6" r="2.4" stroke-width="1.1" fill="#666"/>
<line x1="497.6" y1="302.5" x2="499.4" y2="302.5" stroke-width="0.7" />
<line x1="504.2" y1="302.5" x2="506" y2="302.5" stroke-width="0.7" />
<line x1="501.5" y1="298.4" x2="501.5" y2="300.2" stroke-width="0.7" />
<line x1="501.5" y1="305" x2="501.5" y2="306.8" stroke-width="0.7" />
<circle cx="526.9" cy="302.6" r="2.4" stroke-width="1.1" fill="#666"/>
<line x1="522.7" y1="302.5" x2="524.5" y2="302.5" stroke-width="0.7" />
<line x1="529.3" y1="302.5" x2="531.1" y2="302.5" stroke-width="0.7" />
<line x1="526.5" y1="298.4" x2="526.5" y2="300.2" stroke-width="0.7" />
<line x1="526.5" y1="305" x2="526.5" y2="306.8" stroke-width="0.7" />
<circle cx="556.4" cy="302.6" r="2.4" stroke-width="1.1" fill="#666"/>
<line x1="552.2" y1="302.5" x2="554" y2="302.5" stroke-width="0.7" />
<line x1="558.8" y1="302.5" x2="560.6" y2="302.5" stroke-width="0.7" />
<line x1="556.5" y1="298.4" x2="556.5" y2="300.2" stroke-width="0.7" />
<line x1="556.5" y1="305" x2="556.5" y2="306.8" stroke-width="0.7" />
<circle cx="581.4" cy="302.6" r="2.4" stroke-width="1.1" fill="#666"/>
<line x1="577.2" y1="302.5" x2="579" y2="302.5" stroke-width="0.7" />
<line x1="583.8" y1="302.5" x2="585.6" y2="302.5" stroke-width="0.7" />
<line x1="581.5" y1="298.4" x2="581.5" y2="300.2" stroke-width="0.7" />
<line x1="581.5" y1="305" x2="581.5" y2="306.8" stroke-width="0.7" />
<circle cx="509.4" cy="303.2" r="3.8" stroke-width="1.3" fill="none"/>
<line x1="503.1" y1="303.5" x2="515.7" y2="303.5" stroke-width="0.7" />
<line x1="509.5" y1="296.9" x2="509.5" y2="309.5" stroke-width="0.7" />
<circle cx="574.1" cy="303.2" r="3.8" stroke-width="1.3" fill="none"/>
<line x1="567.8" y1="303.5" x2="580.4" y2="303.5" stroke-width="0.7" />
<line x1="574.5" y1="296.9" x2="574.5" y2="309.5" stroke-width="0.7" />
<circle cx="541.6" cy="298.8" r="3.4" stroke-width="1.2" fill="#111"/>
<line x1="537" y1="298.5" x2="546" y2="298.5" stroke-width="0.6" />
<line x1="541.5" y1="293.8" x2="541.5" y2="303.8" stroke-width="0.6" />
<circle cx="493.3" cy="222.5" r="5.4" stroke-width="1.6" fill="none"/>
<circle cx="493.3" cy="222.5" r="3.4" stroke-width="1.0" fill="none"/>
<line x1="490" y1="220" x2="496.5" y2="225" stroke-width="1.2" />
<circle cx="589.1" cy="222.6" r="3.6" stroke-width="1.2" fill="none"/>
<line x1="583" y1="222.5" x2="595.2" y2="222.5" stroke-width="0.7" />
<line x1="589.5" y1="216.5" x2="589.5" y2="228.7" stroke-width="0.7" />
<circle cx="494" cy="317.9" r="4.2" stroke-width="1.4" fill="none"/>
<line x1="491" y1="315" x2="497" y2="321" stroke-width="1.0" />
<circle cx="494" cy="317.9" r="4.2" stroke-width="1.2" fill="none"/>
<line x1="487.3" y1="317.5" x2="500.7" y2="317.5" stroke-width="0.7" />
<line x1="494.5" y1="311.2" x2="494.5" y2="324.6" stroke-width="0.7" />
<circle cx="589.3" cy="317.9" r="6" stroke-width="2.0" fill="none"/>
<circle cx="589.3" cy="317.9" r="3.6" stroke-width="1.0" fill="none"/>
<line x1="553.5" y1="328.5" x2="553.5" y2="335.5" stroke-width="0.9" />
<line x1="550" y1="332.5" x2="557" y2="332.5" stroke-width="0.9" />
<line x1="641.5" y1="208.5" x2="739.5" y2="208.5" stroke-width="0.9" />
<line x1="641.5" y1="213.5" x2="718.6" y2="213.5" stroke-width="0.9" />
<line x1="589.1" y1="222.5" x2="699.4" y2="222.5" stroke-width="0.9" />
<line x1="541.6" y1="241.5" x2="679.5" y2="241.5" stroke-width="0.9" />
<line x1="541.6" y1="298.5" x2="679.5" y2="298.5" stroke-width="0.9" />
<line x1="589.3" y1="317.5" x2="699.4" y2="317.5" stroke-width="0.9" />
<line x1="641.5" y1="326.5" x2="718.6" y2="326.5" stroke-width="0.9" />
<line x1="641.5" y1="346.5" x2="739.5" y2="346.5" stroke-width="0.9" />
<line x1="436" y1="346.5" x2="452" y2="346.5" stroke-width="0.9" />
<line x1="675.5" y1="241.2" x2="675.5" y2="298.8" stroke-width="1" />
<polygon points="675.5,241.2 677.2,250.7 673.8,250.7" fill="#000" stroke="none"/>
<polygon points="675.5,298.8 673.8,289.3 677.2,289.3" fill="#000" stroke="none"/>
<line x1="694.5" y1="222.6" x2="694.5" y2="317.9" stroke-width="1" />
<polygon points="694.5,222.6 696.2,232.1 692.8,232.1" fill="#000" stroke="none"/>
<polygon points="694.5,317.9 692.8,308.4 696.2,308.4" fill="#000" stroke="none"/>
<line x1="714.5" y1="213.4" x2="714.5" y2="326" stroke-width="1" />
<polygon points="714.5,213.4 716.2,222.9 712.8,222.9" fill="#000" stroke="none"/>
<polygon points="714.5,326 712.8,316.5 716.2,316.5" fill="#000" stroke="none"/>
<line x1="735.5" y1="208.8" x2="735.5" y2="346.4" stroke-width="1" />
<polygon points="735.5,208.8 737.2,218.3 733.8,218.3" fill="#000" stroke="none"/>
<polygon points="735.5,346.4 733.8,336.9 737.2,336.9" fill="#000" stroke="none"/>
<text x="666" y="276.12" font-size="18.5" text-anchor="middle" transform="rotate(-90 666 269.5)">30</text>
<text x="685.7" y="276.12" font-size="18.5" text-anchor="middle" transform="rotate(-90 685.7 269.5)">50</text>
<text x="703.9" y="276.12" font-size="18.5" text-anchor="middle" transform="rotate(-90 703.9 269.5)">59</text>
<text x="725.6" y="276.12" font-size="18.5" text-anchor="middle" transform="rotate(-90 725.6 269.5)">72,5</text>
<rect x="453.8" y="346.4" width="58.8" height="9" rx="0" stroke-width="1.3" fill="none"/>
<line x1="453.8" y1="353.5" x2="512.6" y2="353.5" stroke-width="1.0" />
<rect x="455" y="355.4" width="10.8" height="9.6" rx="0" stroke-width="1.2" fill="none"/>
<rect x="502.4" y="355.4" width="10.2" height="9.6" rx="0" stroke-width="1.2" fill="none"/>
<line x1="459.5" y1="355.4" x2="459.5" y2="365" stroke-width="1.0" />
<line x1="507.5" y1="355.4" x2="507.5" y2="365" stroke-width="1.0" />
<rect x="465.8" y="355.4" width="34.8" height="11.8" rx="0" stroke-width="1.3" fill="none"/>
<text x="335.78" y="399.2" font-size="18.2" text-anchor="start" >2</text>
<text x="351.6" y="399.2" font-size="18.2" text-anchor="start" >x</text>
<text x="365.31" y="399.2" font-size="18.2" text-anchor="start" >M4</text>
<line x1="393.8" y1="386.16" x2="407.45" y2="386.16" stroke-width="1.4" />
<line x1="400.62" y1="386.16" x2="400.62" y2="399.2" stroke-width="1.3" />
<polyline points="395.2,391.59 400.62,399.2 406.05,391.59" stroke-width="1.3" fill="none"/>
<text x="409.58" y="399.2" font-size="18.2" text-anchor="start" >4,5</text>
<line x1="336" y1="403.5" x2="442" y2="403.5" stroke-width="1" />
<line x1="442" y1="403" x2="491.5" y2="321.5" stroke-width="1" />
<polygon points="492,320.5 489.63,327.25 487.07,325.69" fill="#000" stroke="none"/>
<line x1="451.5" y1="346.4" x2="451.5" y2="453.2" stroke-width="0.9" />
<line x1="479.5" y1="340" x2="479.5" y2="425.3" stroke-width="0.9" />
<line x1="494.5" y1="322" x2="494.5" y2="405.7" stroke-width="0.9" />
<line x1="509.5" y1="307" x2="509.5" y2="382.2" stroke-width="0.9" />
<line x1="574.5" y1="307" x2="574.5" y2="382.2" stroke-width="0.9" />
<line x1="589.5" y1="324" x2="589.5" y2="405.7" stroke-width="0.9" />
<line x1="603.5" y1="340" x2="603.5" y2="425.3" stroke-width="0.9" />
<line x1="641.5" y1="346.4" x2="641.5" y2="453.2" stroke-width="0.9" />
<line x1="509.4" y1="378.5" x2="574.1" y2="378.5" stroke-width="1" />
<polygon points="509.4,378.5 518.9,376.8 518.9,380.2" fill="#000" stroke="none"/>
<polygon points="574.1,378.5 564.6,380.2 564.6,376.8" fill="#000" stroke="none"/>
<line x1="494" y1="402.5" x2="589.3" y2="402.5" stroke-width="1" />
<polygon points="494,402.5 503.5,400.8 503.5,404.2" fill="#000" stroke="none"/>
<polygon points="589.3,402.5 579.8,404.2 579.8,400.8" fill="#000" stroke="none"/>
<line x1="479.6" y1="421.5" x2="603.6" y2="421.5" stroke-width="1" />
<polygon points="479.6,421.5 489.1,419.8 489.1,423.2" fill="#000" stroke="none"/>
<polygon points="603.6,421.5 594.1,423.2 594.1,419.8" fill="#000" stroke="none"/>
<line x1="451.3" y1="448.5" x2="641.5" y2="448.5" stroke-width="1" />
<polygon points="451.3,448.5 460.8,446.8 460.8,450.2" fill="#000" stroke="none"/>
<polygon points="641.5,448.5 632,450.2 632,446.8" fill="#000" stroke="none"/>
<rect x="522.3" y="364.4" width="10.2" height="9.2" rx="0" stroke-width="1.1" fill="none"/>
<text x="536.1" y="374.7" font-size="18.5" text-anchor="start" >34</text>
<text x="542.6" y="397.8" font-size="18.5" text-anchor="middle" >50</text>
<text x="542.6" y="416.7" font-size="18.5" text-anchor="middle" >65</text>
<text x="542.9" y="443.9" font-size="18.5" text-anchor="middle" >B</text>
<text x="1.23" y="397.7" font-size="16.2" text-anchor="start" >VT-80 mit DC-Motor und Rotationsencoder /</text>
<text x="1.23" y="417.7" font-size="16.1" text-anchor="start" >VT-80 with DC motor and rotary encoder</text>
<line x1="0.8" y1="423.6" x2="0.8" y2="583.6" stroke-width="1.3" />
<line x1="106.2" y1="423.6" x2="106.2" y2="583.6" stroke-width="1.3" />
<line x1="146.3" y1="423.6" x2="146.3" y2="583.6" stroke-width="1.3" />
<line x1="183.2" y1="423.6" x2="183.2" y2="583.6" stroke-width="1.3" />
<line x1="222.8" y1="423.6" x2="222.8" y2="583.6" stroke-width="1.3" />
<line x1="298.6" y1="423.6" x2="298.6" y2="583.6" stroke-width="1.3" />
<line x1="0.8" y1="423.6" x2="298.6" y2="423.6" stroke-width="1.3" />
<line x1="0.8" y1="450.3" x2="298.6" y2="450.3" stroke-width="1.3" />
<line x1="0.8" y1="469.3" x2="298.6" y2="469.3" stroke-width="1.3" />
<line x1="0.8" y1="488.4" x2="298.6" y2="488.4" stroke-width="1.3" />
<line x1="0.8" y1="507.4" x2="298.6" y2="507.4" stroke-width="1.3" />
<line x1="0.8" y1="526.5" x2="298.6" y2="526.5" stroke-width="1.3" />
<line x1="0.8" y1="545.5" x2="298.6" y2="545.5" stroke-width="1.3" />
<line x1="0.8" y1="564.6" x2="298.6" y2="564.6" stroke-width="1.3" />
<line x1="0.8" y1="583.6" x2="298.6" y2="583.6" stroke-width="1.3" />
<line x1="0.8" y1="584.5" x2="299.6" y2="584.5" stroke-width="1.0" stroke="#888"/>
<line x1="299.5" y1="424.6" x2="299.5" y2="584.8" stroke-width="1.0" stroke="#888"/>
<text x="126.25" y="440.4" font-size="13.7" text-anchor="middle" >A</text>
<text x="164.75" y="440.4" font-size="13.7" text-anchor="middle" >B</text>
<text x="203" y="440.4" font-size="13.7" text-anchor="middle" >C</text>
<text x="260.7" y="434.1" font-size="10.6" text-anchor="middle" textLength="46" lengthAdjust="spacingAndGlyphs">Stellweg /</text>
<text x="260.7" y="444.3" font-size="10.6" text-anchor="middle" textLength="59" lengthAdjust="spacingAndGlyphs">Travel range</text>
<text x="1.9" y="464.8" font-size="13.7" text-anchor="start" >62309110-0000</text>
<text x="126.25" y="464.8" font-size="13.7" text-anchor="middle" >52,5</text>
<text x="164.75" y="464.8" font-size="13.7" text-anchor="middle" >100</text>
<text x="203" y="464.8" font-size="13.7" text-anchor="middle" >70</text>
<text x="260.7" y="464.8" font-size="13.7" text-anchor="middle" >25</text>
<text x="1.9" y="483.8" font-size="13.7" text-anchor="start" >62309120</text>
<text x="126.25" y="483.8" font-size="13.7" text-anchor="middle" >65</text>
<text x="164.75" y="483.8" font-size="13.7" text-anchor="middle" >125</text>
<text x="203" y="483.8" font-size="13.7" text-anchor="middle" >95</text>
<text x="260.7" y="483.8" font-size="13.7" text-anchor="middle" >50</text>
<text x="1.9" y="502.9" font-size="13.7" text-anchor="start" >62309130</text>
<text x="126.25" y="502.9" font-size="13.7" text-anchor="middle" >77,5</text>
<text x="164.75" y="502.9" font-size="13.7" text-anchor="middle" >150</text>
<text x="203" y="502.9" font-size="13.7" text-anchor="middle" >120</text>
<text x="260.7" y="502.9" font-size="13.7" text-anchor="middle" >75</text>
<text x="1.9" y="521.9" font-size="13.7" text-anchor="start" >62309140</text>
<text x="126.25" y="521.9" font-size="13.7" text-anchor="middle" >90</text>
<text x="164.75" y="521.9" font-size="13.7" text-anchor="middle" >175</text>
<text x="203" y="521.9" font-size="13.7" text-anchor="middle" >145</text>
<text x="260.7" y="521.9" font-size="13.7" text-anchor="middle" >100</text>
<text x="1.9" y="541" font-size="13.7" text-anchor="start" >62309150</text>
<text x="126.25" y="541" font-size="13.7" text-anchor="middle" >115</text>
<text x="164.75" y="541" font-size="13.7" text-anchor="middle" >225</text>
<text x="203" y="541" font-size="13.7" text-anchor="middle" >195</text>
<text x="260.7" y="541" font-size="13.7" text-anchor="middle" >150</text>
<text x="1.9" y="560" font-size="13.7" text-anchor="start" >62309160</text>
<text x="126.25" y="560" font-size="13.7" text-anchor="middle" >140</text>
<text x="164.75" y="560" font-size="13.7" text-anchor="middle" >275</text>
<text x="203" y="560" font-size="13.7" text-anchor="middle" >245</text>
<text x="260.7" y="560" font-size="13.7" text-anchor="middle" >200</text>
<text x="1.9" y="579.1" font-size="13.7" text-anchor="start" >62309180</text>
<text x="126.25" y="579.1" font-size="13.7" text-anchor="middle" >190</text>
<text x="164.75" y="579.1" font-size="13.7" text-anchor="middle" >375</text>
<text x="203" y="579.1" font-size="13.7" text-anchor="middle" >345</text>
<text x="260.7" y="579.1" font-size="13.7" text-anchor="middle" >300</text>
<text x="396.5" y="492.5" font-size="17.4" text-anchor="start" >4</text>
<text x="412.3" y="492.5" font-size="17.4" text-anchor="start" >x</text>
<circle cx="435.84" cy="486.67" r="6.04" stroke-width="1.25" fill="none"/>
<line x1="432.36" y1="494.85" x2="439.32" y2="479.1" stroke-width="1.25" />
<text x="445.64" y="492.5" font-size="17.4" text-anchor="start" >3</text>
<text x="461.04" y="479.4" font-size="10.5" text-anchor="start" font-weight="bold" textLength="14.8" lengthAdjust="spacingAndGlyphs">H7</text>
<line x1="480.1" y1="479.54" x2="493.5" y2="479.54" stroke-width="1.4" />
<line x1="486.8" y1="479.54" x2="486.8" y2="492.5" stroke-width="1.3" />
<polyline points="481.49,484.93 486.8,492.5 492.11,484.93" stroke-width="1.3" fill="none"/>
<text x="496.2" y="492.5" font-size="17.4" text-anchor="start" >4</text>
<line x1="396.8" y1="496.5" x2="511.4" y2="496.5" stroke-width="1" />
<line x1="511.4" y1="496.6" x2="539.6" y2="571" stroke-width="1" />
<polygon points="540.3,573 536.45,566.96 539.26,565.92" fill="#000" stroke="none"/>
<line x1="541.5" y1="490" x2="541.5" y2="548" stroke-width="0.9" />
<line x1="541.5" y1="553" x2="541.5" y2="568" stroke-width="0.9" />
<line x1="541.5" y1="581" x2="541.5" y2="621" stroke-width="0.9" />
<line x1="541.5" y1="626" x2="541.5" y2="632" stroke-width="0.9" />
<line x1="541.5" y1="638" x2="541.5" y2="671" stroke-width="0.9" />
<line x1="642.5" y1="490" x2="642.5" y2="530" stroke-width="0.9" />
<line x1="541.4" y1="496.5" x2="642" y2="496.5" stroke-width="1" />
<polygon points="541.4,496.5 550.9,494.8 550.9,498.2" fill="#000" stroke="none"/>
<polygon points="642,496.5 632.5,498.2 632.5,494.8" fill="#000" stroke="none"/>
<text x="591" y="492.8" font-size="18.5" text-anchor="middle" >A</text>
<rect x="453.6" y="520.6" width="59.9" height="9.6" rx="0" stroke-width="1.3" fill="none"/>
<line x1="453.6" y1="522.5" x2="513.5" y2="522.5" stroke-width="1.0" />
<rect x="454.4" y="511" width="11.2" height="9.6" rx="0" stroke-width="1.2" fill="none"/>
<rect x="502.2" y="511" width="10.4" height="9.6" rx="0" stroke-width="1.2" fill="none"/>
<rect x="465.6" y="509.4" width="36" height="11.2" rx="0" stroke-width="1.3" fill="none"/>
<line x1="459.5" y1="511" x2="459.5" y2="520.6" stroke-width="1.0" />
<line x1="507.5" y1="511" x2="507.5" y2="520.6" stroke-width="1.0" />
<path d="M436,668.2 L436,533.5 Q436,530.2 439.5,530.2 L638.5,530.2 Q642,530.2 642,533.5 L642,664.5 Q642,668.2 638.5,668.2 Z" stroke-width="2.0" fill="none" />
<line x1="451" y1="530.2" x2="451" y2="668.2" stroke-width="2.0" />
<line x1="438.5" y1="531" x2="438.5" y2="667.5" stroke-width="1.0" />
<line x1="436" y1="532.5" x2="642" y2="532.5" stroke-width="1.0" />
<line x1="633.3" y1="530.2" x2="633.3" y2="668.2" stroke-width="1.4" />
<line x1="451.2" y1="549.5" x2="633.3" y2="549.5" stroke-width="1.2" />
<line x1="436" y1="664.2" x2="642" y2="664.2" stroke-width="1.4" />
<rect x="367" y="581.3" width="69" height="50.1" rx="0" stroke-width="1.4" fill="none"/>
<rect x="355.9" y="583.6" width="5.1" height="46" rx="0" stroke-width="1.3" fill="#555"/>
<line x1="358.5" y1="586" x2="358.5" y2="627" stroke-width="1.0" stroke="#fff"/>
<rect x="361" y="583.6" width="6" height="46" rx="0" stroke-width="1.3" fill="none"/>
<path d="M355.9,585.5 L328.8,585.5 L328.8,590.2 L320.8,590.2 L320.8,627.2 L355.9,627.2" stroke-width="1.3" fill="none" />
<line x1="327" y1="581.3" x2="327" y2="590.2" stroke-width="2.0" />
<line x1="328.8" y1="589" x2="340" y2="589" stroke-width="1.6" />
<line x1="339.5" y1="585.5" x2="339.5" y2="627.2" stroke-width="1.1" />
<line x1="320.8" y1="601.5" x2="355.9" y2="601.5" stroke-width="1.1" />
<rect x="328" y="604.9" width="27.9" height="3.6" rx="0" stroke-width="1.0" fill="#333"/>
<line x1="321" y1="612.5" x2="339" y2="612.5" stroke-width="1.0" />
<line x1="321" y1="614.5" x2="339" y2="614.5" stroke-width="1.0" />
<line x1="321" y1="618.5" x2="339" y2="618.5" stroke-width="1.0" />
<line x1="321" y1="620.5" x2="339" y2="620.5" stroke-width="1.0" />
<line x1="323" y1="594" x2="323" y2="600" stroke-width="1.5" />
<line x1="284" y1="606.5" x2="650" y2="606.5" stroke-width="1" stroke-dasharray="56,4,3,4" stroke-dashoffset="10"/>
<line x1="284" y1="668.5" x2="436" y2="668.5" stroke-width="0.9" />
<line x1="289.5" y1="606.3" x2="289.5" y2="668.5" stroke-width="1" />
<polygon points="289.5,606.3 291.2,615.8 287.8,615.8" fill="#000" stroke="none"/>
<polygon points="289.5,668.5 287.8,659 291.2,659" fill="#000" stroke="none"/>
<text x="279.6" y="643.62" font-size="18.5" text-anchor="middle" transform="rotate(-90 279.6 637)">32,5</text>
<circle cx="470.5" cy="557.1" r="2.2" stroke-width="1.1" fill="none"/>
<polygon points="609.6,554 611.6,556.5 609.6,559 607.6,556.5" stroke-width="0.8" fill="#000"/>
<line x1="605.6" y1="556.5" x2="613.6" y2="556.5" stroke-width="0.6" />
<line x1="609.5" y1="552.5" x2="609.5" y2="560.5" stroke-width="0.6" />
<circle cx="474.9" cy="574" r="4.4" stroke-width="1.3" fill="none"/>
<line x1="468" y1="574.5" x2="481.8" y2="574.5" stroke-width="0.7" />
<line x1="474.5" y1="567.1" x2="474.5" y2="580.9" stroke-width="0.7" />
<circle cx="608.5" cy="574" r="4.4" stroke-width="1.3" fill="none"/>
<line x1="601.6" y1="574.5" x2="615.4" y2="574.5" stroke-width="0.7" />
<line x1="608.5" y1="567.1" x2="608.5" y2="580.9" stroke-width="0.7" />
<circle cx="509" cy="574" r="4.4" stroke-width="1.6" fill="none"/>
<line x1="502.1" y1="574.5" x2="515.9" y2="574.5" stroke-width="0.7" />
<line x1="509.5" y1="567.1" x2="509.5" y2="580.9" stroke-width="0.7" />
<circle cx="574" cy="574" r="4.4" stroke-width="1.6" fill="none"/>
<line x1="567.1" y1="574.5" x2="580.9" y2="574.5" stroke-width="0.7" />
<line x1="574.5" y1="567.1" x2="574.5" y2="580.9" stroke-width="0.7" />
<circle cx="541.4" cy="577.5" r="2.7" stroke-width="1.2" fill="none"/>
<circle cx="474.9" cy="638.8" r="4.4" stroke-width="1.3" fill="none"/>
<line x1="468" y1="638.5" x2="481.8" y2="638.5" stroke-width="0.7" />
<line x1="474.5" y1="631.9" x2="474.5" y2="645.7" stroke-width="0.7" />
<circle cx="608.5" cy="638.8" r="4.4" stroke-width="1.3" fill="none"/>
<line x1="601.6" y1="638.5" x2="615.4" y2="638.5" stroke-width="0.7" />
<line x1="608.5" y1="631.9" x2="608.5" y2="645.7" stroke-width="0.7" />
<circle cx="509" cy="638.8" r="4.4" stroke-width="1.6" fill="none"/>
<line x1="502.1" y1="638.5" x2="515.9" y2="638.5" stroke-width="0.7" />
<line x1="509.5" y1="631.9" x2="509.5" y2="645.7" stroke-width="0.7" />
<circle cx="574" cy="638.8" r="4.4" stroke-width="1.6" fill="none"/>
<line x1="567.1" y1="638.5" x2="580.9" y2="638.5" stroke-width="0.7" />
<line x1="574.5" y1="631.9" x2="574.5" y2="645.7" stroke-width="0.7" />
<circle cx="541.4" cy="635.2" r="2.7" stroke-width="1.2" fill="none"/>
<circle cx="512" cy="591.4" r="6.2" stroke-width="2.0" fill="none"/>
<line x1="504" y1="591.5" x2="520" y2="591.5" stroke-width="0.7" />
<line x1="512.5" y1="583.4" x2="512.5" y2="599.4" stroke-width="0.7" />
<circle cx="512" cy="591.4" r="3.6" stroke-width="1.0" fill="none"/>
<circle cx="512" cy="621.8" r="6.2" stroke-width="2.2" fill="none"/>
<circle cx="512" cy="621.8" r="3.6" stroke-width="1.2" fill="none"/>
<ellipse cx="512" cy="621.8" rx="1.6" ry="2.4" stroke-width="1" fill="none"/>
<line x1="518.2" y1="621.5" x2="520.5" y2="621.5" stroke-width="0.8" />
<line x1="505.8" y1="621.5" x2="503.5" y2="621.5" stroke-width="0.8" />
<line x1="512.5" y1="628" x2="512.5" y2="630.3" stroke-width="0.8" />
<line x1="512.5" y1="615.6" x2="512.5" y2="613.3" stroke-width="0.8" />
<circle cx="512" cy="606.3" r="2.6" stroke-width="1.1" fill="none"/>
<line x1="507.5" y1="606.5" x2="516.5" y2="606.5" stroke-width="0.7" />
<line x1="512.5" y1="601.8" x2="512.5" y2="610.8" stroke-width="0.7" />
<circle cx="570.3" cy="606.3" r="2.6" stroke-width="1.1" fill="none"/>
<line x1="565.8" y1="606.5" x2="574.8" y2="606.5" stroke-width="0.7" />
<line x1="570.5" y1="601.8" x2="570.5" y2="610.8" stroke-width="0.7" />
<polygon points="470.5,653.8 472.5,656.3 470.5,658.8 468.5,656.3" stroke-width="0.8" fill="#000"/>
<line x1="466.5" y1="656.5" x2="474.5" y2="656.5" stroke-width="0.6" />
<line x1="470.5" y1="652.3" x2="470.5" y2="660.3" stroke-width="0.6" />
<polygon points="609.6,653.8 611.6,656.3 609.6,658.8 607.6,656.3" stroke-width="0.8" fill="#000"/>
<line x1="605.6" y1="656.5" x2="613.6" y2="656.5" stroke-width="0.6" />
<line x1="609.5" y1="652.3" x2="609.5" y2="660.3" stroke-width="0.6" />
<line x1="608.5" y1="574.5" x2="706.4" y2="574.5" stroke-width="0.9" />
<line x1="541.4" y1="577.5" x2="683" y2="577.5" stroke-width="0.9" />
<line x1="541.4" y1="635.5" x2="683" y2="635.5" stroke-width="0.9" />
<line x1="608.5" y1="638.5" x2="706.4" y2="638.5" stroke-width="0.9" />
<line x1="680.5" y1="577.4" x2="680.5" y2="635.3" stroke-width="1" />
<polygon points="680.5,577.4 682.2,586.9 678.8,586.9" fill="#000" stroke="none"/>
<polygon points="680.5,635.3 678.8,625.8 682.2,625.8" fill="#000" stroke="none"/>
<line x1="703.5" y1="574.5" x2="703.5" y2="638.9" stroke-width="1" />
<polygon points="703.5,574.5 705.2,584 701.8,584" fill="#000" stroke="none"/>
<polygon points="703.5,638.9 701.8,629.4 705.2,629.4" fill="#000" stroke="none"/>
<text x="669" y="612.62" font-size="18.5" text-anchor="middle" transform="rotate(-90 669 606)">30</text>
<text x="692.5" y="612.62" font-size="18.5" text-anchor="middle" transform="rotate(-90 692.5 606)">34</text>
<text x="652.45" y="682.6" font-size="15.8" text-anchor="start" >X</text>
<line x1="652" y1="685.5" x2="665" y2="685.5" stroke-width="1.2" />
<line x1="475.5" y1="643" x2="475.5" y2="746" stroke-width="0.9" />
<line x1="608.5" y1="643" x2="608.5" y2="746" stroke-width="0.9" />
<line x1="642.5" y1="668.2" x2="642.5" y2="746" stroke-width="1.0" />
<line x1="509.5" y1="643" x2="509.5" y2="725" stroke-width="0.9" />
<line x1="574.5" y1="643" x2="574.5" y2="725" stroke-width="0.9" />
<line x1="512.5" y1="628" x2="512.5" y2="704" stroke-width="0.9" />
<line x1="570.5" y1="609" x2="570.5" y2="704" stroke-width="0.9" />
<line x1="512.6" y1="700.5" x2="570.3" y2="700.5" stroke-width="1" />
<polygon points="512.6,700.5 522.1,698.8 522.1,702.2" fill="#000" stroke="none"/>
<polygon points="570.3,700.5 560.8,702.2 560.8,698.8" fill="#000" stroke="none"/>
<line x1="509" y1="721.5" x2="574" y2="721.5" stroke-width="1" />
<polygon points="509,721.5 518.5,719.8 518.5,723.2" fill="#000" stroke="none"/>
<polygon points="574,721.5 564.5,723.2 564.5,719.8" fill="#000" stroke="none"/>
<line x1="475" y1="742.5" x2="608.5" y2="742.5" stroke-width="1" />
<polygon points="475,742.5 484.5,740.8 484.5,744.2" fill="#000" stroke="none"/>
<polygon points="608.5,742.5 599,744.2 599,740.8" fill="#000" stroke="none"/>
<line x1="608.5" y1="742.5" x2="694.8" y2="742.5" stroke-width="1" />
<polygon points="642,742.5 651.5,740.8 651.5,744.2" fill="#000" stroke="none"/>
<text x="542.4" y="695.1" font-size="18.5" text-anchor="middle" >30</text>
<rect x="521" y="706.5" width="10.2" height="9.2" rx="0" stroke-width="1.1" fill="none"/>
<text x="534.8" y="716.5" font-size="18.5" text-anchor="start" >34</text>
<text x="542.4" y="737.3" font-size="18.5" text-anchor="middle" >C</text>
<text x="653.39" y="737.6" font-size="18.5" text-anchor="start" >17,5</text>
<text x="300.07" y="692.6" font-size="16.1" text-anchor="start" >Ansicht von Unten</text>
<text x="300.04" y="712.5" font-size="16.2" text-anchor="start" >view from below</text>
<text x="256.74" y="739.5" font-size="17.4" text-anchor="start" >8</text>
<text x="272.5" y="739.5" font-size="17.4" text-anchor="start" >x</text>
<circle cx="296.2" cy="733.8" r="5.9" stroke-width="1.25" fill="none"/>
<line x1="292.8" y1="741.79" x2="299.6" y2="726.41" stroke-width="1.25" />
<text x="304.3" y="739.5" font-size="17.4" text-anchor="start" >4,5/</text>
<polyline points="343.3,727.94 343.3,739.5 368.7,739.5 368.7,727.94" stroke-width="1.0" fill="none"/>
<circle cx="385.7" cy="733.8" r="5.9" stroke-width="1.25" fill="none"/>
<line x1="382.3" y1="741.79" x2="389.1" y2="726.41" stroke-width="1.25" />
<text x="394.56" y="739.5" font-size="17" text-anchor="start" textLength="45.4" lengthAdjust="spacingAndGlyphs">8x4,6</text>
<line x1="255" y1="744.5" x2="446" y2="744.5" stroke-width="1" />
<line x1="446" y1="744.8" x2="474" y2="643.5" stroke-width="1" />
<polygon points="474.3,642.8 473.93,649.95 471.03,649.17" fill="#000" stroke="none"/>
</svg></body></html>
